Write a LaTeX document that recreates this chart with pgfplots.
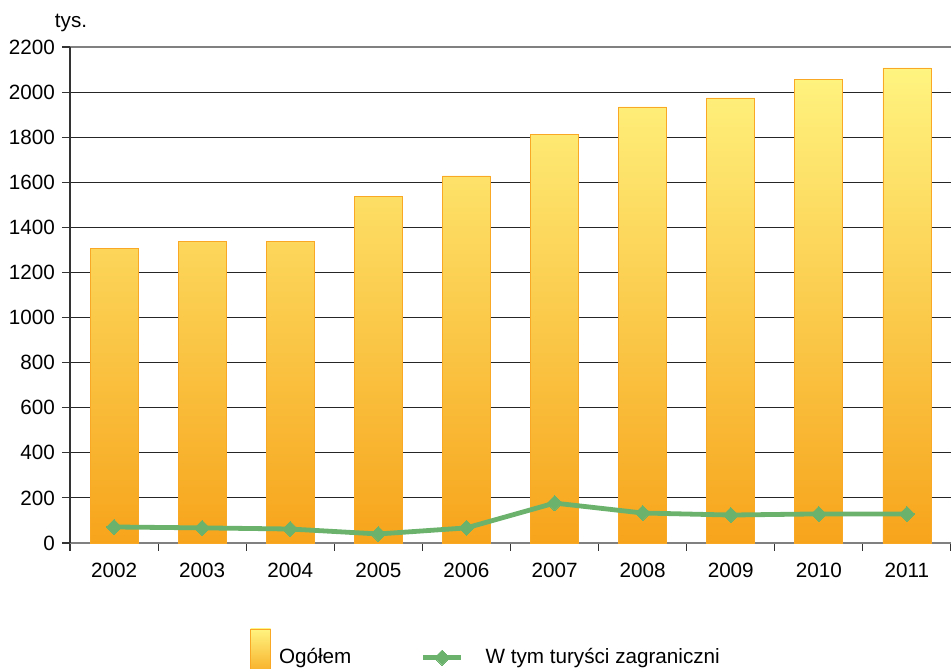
\documentclass[border=0pt]{standalone}
\usepackage{pgfplots}
\pgfplotsset{compat=1.18}
\usepackage{fontspec}
\setmainfont{Liberation Sans}
\definecolor{barbot}{HTML}{F7A41B}
\definecolor{bartop}{HTML}{FFF480}
\definecolor{baredge}{HTML}{F9A825}
\definecolor{lgreen}{HTML}{6BB26D}
\definecolor{axgray}{HTML}{808080}
\begin{document}
\fontsize{15.5}{18}\selectfont
\begin{tikzpicture}
\begin{axis}[
  name=ax,
  scale only axis,
  clip=false,
  width=660.75pt, height=372pt,
  xmin=-0.5, xmax=9.5,
  ymin=0, ymax=2200,
  font=\fontsize{15.5}{18}\selectfont,
  /pgf/number format/assume math mode=true,
  /pgf/number format/1000 sep={},
  ytick={200,400,...,2000},
  extra y ticks={0,2200},
  extra y tick style={ymajorgrids=false},
  ymajorgrids,
  major grid style={black!85, line width=0.8pt},
  xtick={0,...,9},
  xticklabels={2002,2003,2004,2005,2006,2007,2008,2009,2010,2011},
  minor xtick={-0.5,0.5,...,9.5},
  xtick pos=bottom, ytick pos=left,
  tick align=outside,
  major x tick style={draw=none},
  minor x tick style={black!80, line width=0.8pt},
  minor tick length=6pt,
  major tick length=6pt,
  y tick style={black!80, line width=0.8pt},
  axis x line=box,
  axis y line*=left,
  x axis line style={axgray, line width=1.6pt},
  y axis line style={black!80, line width=0.8pt, -},
  xticklabel style={yshift=-3.75pt},
  legend columns=2,
  legend style={draw=none, fill=none, at={(0.2043,-0.172)}, anchor=north west,
    inner sep=0pt, font=\fontsize{15.5}{18}\selectfont,
    /tikz/every even column/.append style={column sep=50pt},
    /tikz/every odd column/.append style={column sep=4pt}},
]
\addplot[ybar, bar width=0.545, draw=baredge, line width=0.6pt,
  top color=bartop, bottom color=barbot,
  legend image code/.code={\draw[draw=baredge, line width=0.6pt, top color=bartop, bottom color=barbot] (0pt,-16pt) rectangle (15pt,21.5pt);}]
coordinates {(0,1308) (1,1339) (2,1339) (3,1539) (4,1628) (5,1814) (6,1934) (7,1974) (8,2058) (9,2107)};
\addlegendentry{Ogółem}
\addplot[lgreen, line width=3.6pt, mark=square*, mark size=4pt,
  mark options={rotate=45, solid, fill=lgreen, draw=lgreen, line width=0pt},
  legend image code/.code={\draw[mark repeat=2, mark phase=2] plot coordinates {(0pt,0pt) (14.25pt,0pt) (28.5pt,0pt)}; \path (39pt,0pt);}]
coordinates {(0,71) (1,67) (2,62) (3,40) (4,67) (5,177) (6,133) (7,124) (8,129) (9,129)};
\addlegendentry{W tym turyści zagraniczni}
\node at ([xshift=0.75pt, yshift=18pt]rel axis cs:0,1) {tys.};
\end{axis}
\pgfresetboundingbox
\path ([shift={(-52.5pt,-94.5pt)}]ax.south west) rectangle ([shift={(0pt,35.25pt)}]ax.north east);
\end{tikzpicture}
\end{document}
